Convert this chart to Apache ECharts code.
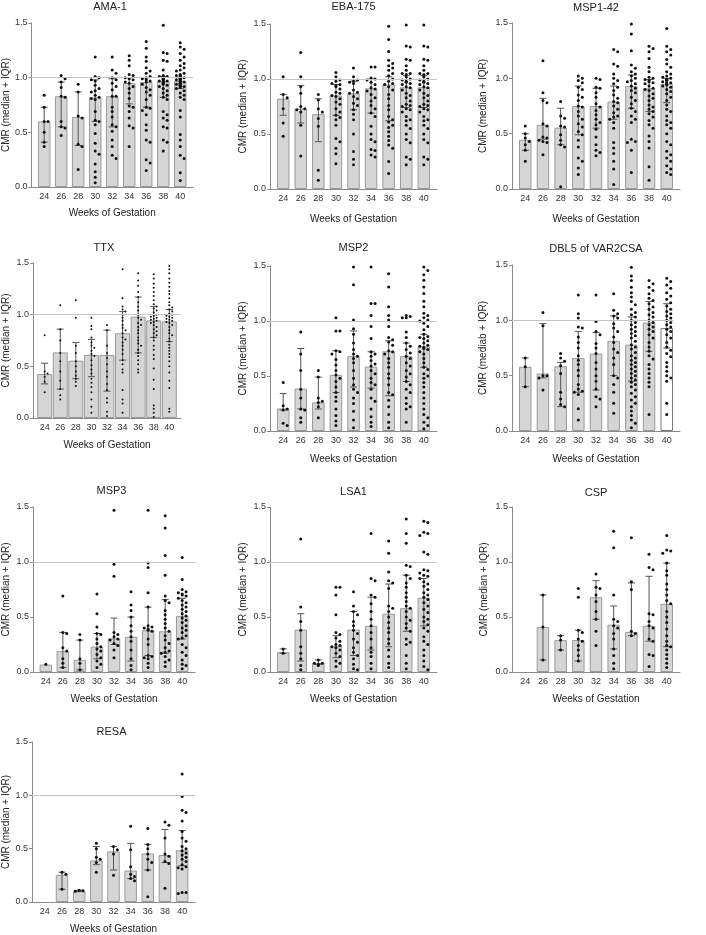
<!DOCTYPE html>
<html>
<head>
<meta charset="utf-8">
<script src="https://cdn.jsdelivr.net/npm/echarts@6/dist/echarts.min.js"></script>
<style>
html,body{margin:0;padding:0;background:#fff;}
#chart{width:706px;height:935px;}
</style>
</head>
<body>
<div id="chart"></div>
<script>
// ---------- DATA ----------
const WEEKS = [24, 26, 28, 30, 32, 34, 36, 38, 40];
const Y_TICKS = [0, 0.5, 1.0, 1.5];
const X_NAME = 'Weeks of Gestation';

// AMA-1
const AMA1_MED = [0.60, 0.83, 0.64, 0.82, 0.83, 0.95, 0.96, 0.97, 0.97];
const AMA1_Q1  = [0.41, 0.55, 0.38, 0.60, 0.55, 0.76, 0.73, 0.82, 0.90];
const AMA1_Q3  = [0.73, 0.96, 0.87, 0.98, 0.99, 1.00, 1.00, 1.01, 1.00];
const AMA1_PTS = [
  [0.84, 0.73, 0.60, 0.60, 0.50, 0.41, 0.37],
  [1.02, 0.99, 0.96, 0.91, 0.83, 0.82, 0.60, 0.55, 0.54, 0.47],
  [0.94, 0.87, 0.65, 0.63, 0.39, 0.37, 0.16],
  [1.19, 1.01, 1.00, 0.98, 0.97, 0.93, 0.90, 0.88, 0.87, 0.84, 0.82, 0.81, 0.80, 0.69, 0.61, 0.60, 0.57, 0.49, 0.40, 0.33, 0.30, 0.21, 0.14, 0.09, 0.04],
  [1.19, 1.07, 1.04, 1.00, 0.98, 0.95, 0.92, 0.89, 0.83, 0.83, 0.73, 0.69, 0.64, 0.57, 0.55, 0.51, 0.43, 0.37, 0.29, 0.26],
  [1.20, 1.16, 1.11, 1.03, 1.02, 1.00, 0.99, 0.98, 0.96, 0.95, 0.92, 0.90, 0.86, 0.81, 0.74, 0.73, 0.69, 0.63, 0.56, 0.54, 0.37],
  [1.33, 1.27, 1.19, 1.15, 1.09, 1.06, 1.04, 1.01, 1.00, 0.99, 0.98, 0.97, 0.96, 0.94, 0.91, 0.89, 0.87, 0.84, 0.80, 0.73, 0.72, 0.70, 0.66, 0.57, 0.52, 0.43, 0.41, 0.25, 0.22, 0.15],
  [1.48, 1.23, 1.22, 1.16, 1.15, 1.07, 1.02, 1.01, 1.01, 1.00, 1.00, 0.99, 0.99, 0.98, 0.98, 0.97, 0.97, 0.96, 0.96, 0.95, 0.94, 0.93, 0.92, 0.90, 0.88, 0.86, 0.84, 0.82, 0.80, 0.69, 0.66, 0.63, 0.61, 0.55, 0.54, 0.43, 0.41, 0.33],
  [1.32, 1.28, 1.26, 1.22, 1.19, 1.16, 1.13, 1.11, 1.09, 1.07, 1.06, 1.04, 1.03, 1.02, 1.02, 1.01, 1.01, 1.00, 1.00, 1.00, 0.99, 0.99, 0.99, 0.98, 0.98, 0.98, 0.97, 0.97, 0.97, 0.96, 0.96, 0.96, 0.95, 0.95, 0.94, 0.94, 0.93, 0.93, 0.92, 0.92, 0.91, 0.90, 0.88, 0.86, 0.84, 0.82, 0.80, 0.70, 0.64, 0.48, 0.43, 0.37, 0.29, 0.26, 0.13, 0.06]
];

// EBA-175
const EBA_MED = [0.82, 0.73, 0.68, 0.85, 0.87, 0.915, 0.95, 0.925, 0.925];
const EBA_Q1  = [0.67, 0.60, 0.43, 0.67, 0.72, 0.69, 0.62, 0.74, 0.74];
const EBA_Q3  = [0.86, 0.94, 0.82, 0.95, 0.98, 1.00, 1.02, 1.03, 1.03];
const EBA_PTS = [
  [1.02, 0.86, 0.83, 0.73, 0.60, 0.48],
  [1.24, 1.02, 0.93, 0.87, 0.75, 0.73, 0.72, 0.70, 0.58, 0.30],
  [0.86, 0.81, 0.73, 0.70, 0.64, 0.57, 0.17, 0.08],
  [1.06, 1.02, 0.99, 0.98, 0.96, 0.95, 0.94, 0.93, 0.91, 0.88, 0.87, 0.85, 0.84, 0.82, 0.79, 0.77, 0.73, 0.70, 0.67, 0.65, 0.63, 0.58, 0.46, 0.43, 0.37, 0.32, 0.23],
  [1.10, 1.02, 0.99, 0.98, 0.97, 0.96, 0.90, 0.88, 0.87, 0.84, 0.82, 0.78, 0.76, 0.72, 0.68, 0.63, 0.50, 0.34, 0.27, 0.22],
  [1.11, 1.11, 1.01, 1.00, 0.99, 0.97, 0.95, 0.92, 0.91, 0.89, 0.86, 0.83, 0.80, 0.76, 0.73, 0.69, 0.66, 0.57, 0.50, 0.45, 0.43, 0.36, 0.35, 0.31, 0.29],
  [1.48, 1.36, 1.25, 1.17, 1.14, 1.12, 1.10, 1.08, 1.05, 1.03, 1.00, 0.98, 0.96, 0.95, 0.93, 0.90, 0.86, 0.82, 0.76, 0.72, 0.66, 0.63, 0.61, 0.58, 0.56, 0.52, 0.48, 0.44, 0.40, 0.37, 0.25, 0.14],
  [1.49, 1.30, 1.29, 1.18, 1.17, 1.12, 1.08, 1.05, 1.05, 1.04, 1.02, 1.00, 0.99, 0.98, 0.97, 0.96, 0.95, 0.93, 0.92, 0.90, 0.87, 0.85, 0.83, 0.80, 0.77, 0.76, 0.75, 0.73, 0.72, 0.70, 0.66, 0.63, 0.62, 0.58, 0.55, 0.50, 0.45, 0.42, 0.29, 0.27, 0.22],
  [1.49, 1.30, 1.29, 1.18, 1.17, 1.12, 1.08, 1.05, 1.05, 1.04, 1.02, 1.00, 0.99, 0.98, 0.97, 0.96, 0.95, 0.93, 0.92, 0.90, 0.87, 0.85, 0.83, 0.80, 0.77, 0.76, 0.75, 0.73, 0.72, 0.70, 0.66, 0.63, 0.62, 0.58, 0.55, 0.50, 0.45, 0.42, 0.29, 0.27, 0.22]
];

// MSP1-42
const MSP142_MED = [0.445, 0.58, 0.555, 0.75, 0.75, 0.79, 0.93, 0.91, 0.95];
const MSP142_Q1  = [0.35, 0.45, 0.40, 0.49, 0.55, 0.63, 0.73, 0.70, 0.78];
const MSP142_Q3  = [0.50, 0.82, 0.73, 0.93, 0.91, 0.93, 1.03, 0.99, 1.00];
const MSP142_PTS = [
  [0.57, 0.50, 0.46, 0.43, 0.40, 0.35, 0.25],
  [1.16, 0.87, 0.80, 0.78, 0.59, 0.57, 0.47, 0.46, 0.44, 0.43, 0.42, 0.31],
  [0.79, 0.66, 0.64, 0.57, 0.56, 0.49, 0.44, 0.40, 0.38, 0.02],
  [1.02, 1.00, 0.98, 0.96, 0.92, 0.90, 0.85, 0.83, 0.80, 0.75, 0.74, 0.70, 0.66, 0.63, 0.59, 0.56, 0.52, 0.49, 0.44, 0.38, 0.28, 0.25, 0.19, 0.13],
  [1.00, 0.99, 0.92, 0.91, 0.87, 0.83, 0.77, 0.74, 0.71, 0.67, 0.63, 0.60, 0.58, 0.54, 0.47, 0.40, 0.35, 0.33, 0.30],
  [1.26, 1.24, 1.13, 1.11, 1.04, 1.00, 0.98, 0.95, 0.92, 0.89, 0.85, 0.82, 0.79, 0.78, 0.75, 0.72, 0.69, 0.66, 0.65, 0.63, 0.60, 0.55, 0.42, 0.37, 0.32, 0.25, 0.18, 0.04],
  [1.49, 1.40, 1.25, 1.12, 1.09, 1.06, 1.04, 1.02, 1.00, 0.98, 0.97, 0.95, 0.93, 0.91, 0.89, 0.87, 0.83, 0.80, 0.77, 0.73, 0.70, 0.66, 0.63, 0.60, 0.45, 0.43, 0.42, 0.35, 0.15],
  [1.29, 1.27, 1.24, 1.18, 1.10, 1.06, 1.01, 1.00, 0.99, 0.98, 0.97, 0.96, 0.95, 0.93, 0.91, 0.90, 0.89, 0.86, 0.84, 0.82, 0.80, 0.76, 0.74, 0.72, 0.70, 0.68, 0.65, 0.62, 0.58, 0.55, 0.48, 0.43, 0.37, 0.20, 0.08],
  [1.45, 1.29, 1.26, 1.24, 1.21, 1.17, 1.13, 1.10, 1.06, 1.04, 1.02, 1.01, 1.00, 0.99, 0.99, 0.98, 0.98, 0.97, 0.96, 0.96, 0.95, 0.94, 0.93, 0.92, 0.90, 0.88, 0.86, 0.83, 0.80, 0.76, 0.72, 0.70, 0.66, 0.62, 0.60, 0.58, 0.55, 0.50, 0.43, 0.40, 0.34, 0.31, 0.28, 0.25, 0.21, 0.18, 0.15, 0.13]
];

// TTX
const TTX_MED = [0.425, 0.635, 0.555, 0.61, 0.61, 0.82, 0.98, 0.945, 0.935];
const TTX_Q1  = [0.33, 0.28, 0.38, 0.40, 0.26, 0.56, 0.63, 0.78, 0.74];
const TTX_Q3  = [0.53, 0.86, 0.73, 0.76, 0.85, 1.03, 1.17, 1.08, 1.05];
const TTX_PTS = [
  [0.80, 0.45, 0.43, 0.40, 0.35, 0.25],
  [1.09, 0.86, 0.75, 0.63, 0.55, 0.45, 0.36, 0.28, 0.22, 0.18],
  [1.14, 0.97, 0.70, 0.63, 0.55, 0.50, 0.45, 0.41, 0.38, 0.35, 0.31],
  [0.97, 0.89, 0.86, 0.78, 0.73, 0.70, 0.68, 0.65, 0.62, 0.60, 0.56, 0.51, 0.47, 0.43, 0.38, 0.34, 0.30, 0.25, 0.18, 0.11, 0.05],
  [0.90, 0.85, 0.70, 0.63, 0.58, 0.52, 0.45, 0.40, 0.33, 0.27, 0.19, 0.15, 0.06, 0.02],
  [1.44, 1.16, 1.08, 1.05, 1.03, 1.00, 0.97, 0.94, 0.90, 0.87, 0.85, 0.82, 0.78, 0.76, 0.73, 0.70, 0.66, 0.62, 0.56, 0.52, 0.47, 0.44, 0.27, 0.18, 0.14, 0.05],
  [1.40, 1.33, 1.28, 1.22, 1.17, 1.12, 1.08, 1.04, 1.00, 0.97, 0.95, 0.92, 0.90, 0.88, 0.85, 0.82, 0.78, 0.75, 0.72, 0.70, 0.66, 0.63, 0.60, 0.56, 0.52, 0.47, 0.44],
  [1.39, 1.35, 1.30, 1.26, 1.22, 1.18, 1.14, 1.10, 1.08, 1.06, 1.04, 1.02, 1.00, 0.99, 0.98, 0.97, 0.96, 0.95, 0.94, 0.93, 0.92, 0.90, 0.88, 0.86, 0.84, 0.82, 0.80, 0.78, 0.75, 0.70, 0.66, 0.61, 0.57, 0.48, 0.37, 0.28, 0.12, 0.09, 0.05, 0.01],
  [1.47, 1.44, 1.40, 1.35, 1.31, 1.27, 1.23, 1.20, 1.16, 1.12, 1.09, 1.07, 1.05, 1.03, 1.01, 1.00, 0.99, 0.98, 0.97, 0.96, 0.95, 0.94, 0.93, 0.92, 0.90, 0.88, 0.85, 0.82, 0.80, 0.77, 0.74, 0.71, 0.68, 0.65, 0.62, 0.59, 0.55, 0.50, 0.44, 0.36, 0.29, 0.09, 0.06]
];

// MSP2
const MSP2_MED = [0.205, 0.385, 0.26, 0.51, 0.68, 0.585, 0.725, 0.68, 0.77];
const MSP2_Q1  = [0.19, 0.20, 0.20, 0.35, 0.40, 0.39, 0.32, 0.45, 0.58];
const MSP2_Q3  = [0.34, 0.75, 0.49, 0.73, 0.91, 0.72, 0.82, 0.80, 0.88];
const MSP2_PTS = [
  [0.44, 0.23, 0.20, 0.19, 0.07, 0.05],
  [0.90, 0.70, 0.55, 0.38, 0.30, 0.20, 0.19, 0.12, 0.08],
  [0.55, 0.49, 0.30, 0.27, 0.26, 0.22, 0.12],
  [1.03, 0.91, 0.91, 0.73, 0.72, 0.70, 0.65, 0.60, 0.55, 0.51, 0.48, 0.45, 0.40, 0.35, 0.31, 0.27, 0.20, 0.14, 0.09, 0.05],
  [1.49, 1.33, 1.01, 0.93, 0.88, 0.80, 0.74, 0.70, 0.68, 0.66, 0.62, 0.55, 0.48, 0.42, 0.38, 0.35, 0.30, 0.25, 0.18, 0.10, 0.03],
  [1.49, 1.16, 1.16, 1.05, 0.95, 0.84, 0.72, 0.70, 0.68, 0.64, 0.61, 0.59, 0.55, 0.52, 0.48, 0.44, 0.42, 0.38, 0.30, 0.27, 0.20, 0.13, 0.08, 0.04],
  [1.43, 1.31, 1.13, 1.05, 1.01, 0.95, 0.85, 0.83, 0.81, 0.78, 0.73, 0.72, 0.70, 0.66, 0.62, 0.58, 0.52, 0.48, 0.42, 0.35, 0.33, 0.28, 0.22, 0.15, 0.08, 0.03],
  [1.05, 1.04, 1.03, 1.03, 0.90, 0.85, 0.80, 0.77, 0.74, 0.71, 0.68, 0.66, 0.62, 0.59, 0.55, 0.52, 0.49, 0.45, 0.42, 0.38, 0.35, 0.30, 0.25, 0.22, 0.20, 0.08],
  [1.49, 1.46, 1.42, 1.37, 1.31, 1.25, 1.18, 1.13, 1.07, 1.05, 1.03, 1.01, 1.00, 0.98, 0.95, 0.92, 0.88, 0.86, 0.85, 0.84, 0.82, 0.80, 0.78, 0.77, 0.76, 0.75, 0.74, 0.72, 0.70, 0.66, 0.62, 0.58, 0.56, 0.52, 0.50, 0.48, 0.44, 0.40, 0.35, 0.30, 0.25, 0.20, 0.15, 0.12, 0.08, 0.05, 0.02]
];

// DBL5 of VAR2CSA
const DBL5_MED = [0.58, 0.52, 0.585, 0.66, 0.70, 0.815, 0.78, 0.98, 0.93];
const DBL5_Q1  = [0.40, 0.48, 0.22, 0.35, 0.37, 0.50, 0.45, 0.72, 0.75];
const DBL5_Q3  = [0.66, 0.97, 0.62, 0.90, 0.89, 1.04, 1.03, 1.17, 1.15];
const DBL5_PTS = [
  [0.66, 0.58, 0.40],
  [1.07, 0.95, 0.50, 0.50, 0.48, 0.37],
  [0.70, 0.66, 0.63, 0.59, 0.52, 0.35, 0.29, 0.24, 0.22],
  [1.23, 1.06, 1.02, 0.94, 0.93, 0.85, 0.80, 0.75, 0.68, 0.64, 0.60, 0.55, 0.50, 0.42, 0.38, 0.36, 0.35, 0.33, 0.20, 0.10],
  [1.23, 0.99, 0.90, 0.87, 0.79, 0.75, 0.70, 0.62, 0.56, 0.50, 0.45, 0.38, 0.31, 0.29, 0.22],
  [1.24, 1.09, 1.06, 1.04, 1.02, 0.97, 0.93, 0.90, 0.85, 0.80, 0.74, 0.71, 0.66, 0.60, 0.50, 0.48, 0.42, 0.35, 0.25, 0.16],
  [1.48, 1.40, 1.36, 1.30, 1.25, 1.21, 1.17, 1.14, 1.10, 1.07, 1.05, 1.03, 1.00, 0.98, 0.96, 0.94, 0.92, 0.90, 0.88, 0.86, 0.84, 0.81, 0.78, 0.76, 0.74, 0.71, 0.68, 0.66, 0.64, 0.62, 0.60, 0.58, 0.56, 0.54, 0.52, 0.50, 0.48, 0.46, 0.44, 0.42, 0.40, 0.37, 0.34, 0.31, 0.28, 0.25, 0.22, 0.18, 0.14, 0.10, 0.07, 0.03],
  [1.36, 1.33, 1.30, 1.27, 1.24, 1.20, 1.18, 1.15, 1.12, 1.10, 1.07, 1.05, 1.03, 1.00, 0.98, 0.96, 0.94, 0.92, 0.90, 0.87, 0.84, 0.80, 0.76, 0.72, 0.68, 0.65, 0.60, 0.56, 0.52, 0.48, 0.44, 0.40, 0.15],
  [1.38, 1.35, 1.32, 1.29, 1.25, 1.22, 1.19, 1.16, 1.13, 1.10, 1.08, 1.06, 1.04, 1.02, 1.00, 0.98, 0.96, 0.94, 0.92, 0.90, 0.87, 0.84, 0.80, 0.76, 0.73, 0.70, 0.67, 0.62, 0.58, 0.54, 0.50, 0.48, 0.45, 0.25, 0.15]
];

// MSP3
const MSP3_MED = [0.067, 0.19, 0.11, 0.23, 0.305, 0.32, 0.38, 0.37, 0.51];
const MSP3_Q1  = [null, 0.04, 0.02, 0.12, 0.25, 0.10, 0.15, 0.17, 0.30];
const MSP3_Q3  = [null, 0.36, 0.29, 0.35, 0.49, 0.50, 0.59, 0.66, 0.67];
const MSP3_PTS = [
  [0.07],
  [0.69, 0.36, 0.35, 0.22, 0.19, 0.12, 0.08, 0.04],
  [0.34, 0.29, 0.12, 0.08, 0.02],
  [0.71, 0.53, 0.41, 0.35, 0.34, 0.30, 0.26, 0.23, 0.21, 0.19, 0.16, 0.13, 0.10, 0.07, 0.04],
  [1.47, 0.98, 0.87, 0.36, 0.34, 0.32, 0.30, 0.29, 0.26, 0.24, 0.20, 0.13],
  [0.73, 0.61, 0.56, 0.50, 0.42, 0.37, 0.32, 0.28, 0.20, 0.12, 0.06, 0.02],
  [1.47, 0.99, 0.95, 0.72, 0.59, 0.42, 0.41, 0.40, 0.39, 0.38, 0.37, 0.30, 0.25, 0.15, 0.14, 0.13, 0.12, 0.08, 0.04],
  [1.42, 1.31, 1.06, 0.88, 0.69, 0.65, 0.63, 0.56, 0.52, 0.48, 0.44, 0.40, 0.37, 0.33, 0.29, 0.26, 0.22, 0.19, 0.18, 0.17, 0.14, 0.11, 0.09, 0.05],
  [1.04, 0.84, 0.75, 0.73, 0.72, 0.71, 0.70, 0.69, 0.67, 0.65, 0.63, 0.61, 0.59, 0.57, 0.55, 0.53, 0.51, 0.49, 0.47, 0.45, 0.42, 0.40, 0.38, 0.36, 0.33, 0.31, 0.30, 0.25, 0.22, 0.18, 0.15, 0.11, 0.07, 0.06, 0.03]
];

// LSA1
const LSA1_MED = [0.18, 0.385, 0.08, 0.235, 0.385, 0.42, 0.53, 0.58, 0.675];
const LSA1_Q1  = [0.17, 0.10, 0.07, 0.13, 0.15, 0.20, 0.23, 0.37, 0.42];
const LSA1_Q3  = [0.21, 0.53, 0.11, 0.33, 0.55, 0.68, 0.80, 0.88, 0.85];
const LSA1_PTS = [
  [0.21, 0.17],
  [1.21, 0.59, 0.46, 0.38, 0.23, 0.17, 0.12, 0.06, 0.02],
  [0.11, 0.08, 0.08, 0.07, 0.06],
  [0.77, 0.77, 0.70, 0.52, 0.36, 0.34, 0.31, 0.28, 0.25, 0.24, 0.23, 0.22, 0.20, 0.17, 0.14, 0.10, 0.08, 0.05],
  [0.73, 0.60, 0.55, 0.52, 0.46, 0.42, 0.38, 0.35, 0.30, 0.27, 0.22, 0.18, 0.15, 0.12, 0.07, 0.03, 0.02],
  [1.26, 0.85, 0.83, 0.70, 0.68, 0.62, 0.55, 0.48, 0.42, 0.36, 0.30, 0.22, 0.18, 0.14, 0.08, 0.03],
  [1.19, 1.08, 0.91, 0.83, 0.81, 0.76, 0.60, 0.58, 0.55, 0.50, 0.45, 0.40, 0.36, 0.30, 0.26, 0.20, 0.14, 0.08, 0.04],
  [1.39, 1.26, 1.17, 0.97, 0.96, 0.88, 0.85, 0.81, 0.77, 0.72, 0.68, 0.64, 0.60, 0.58, 0.55, 0.50, 0.47, 0.44, 0.40, 0.37, 0.30, 0.27, 0.25, 0.15, 0.08, 0.03],
  [1.37, 1.36, 1.27, 1.26, 1.24, 1.09, 1.07, 0.93, 0.92, 0.90, 0.88, 0.87, 0.85, 0.82, 0.80, 0.78, 0.75, 0.72, 0.70, 0.68, 0.66, 0.63, 0.60, 0.57, 0.54, 0.50, 0.48, 0.46, 0.43, 0.40, 0.37, 0.32, 0.28, 0.25, 0.20, 0.15, 0.10, 0.05, 0.02]
];

// CSP
const CSP_MED = [null, 0.41, 0.29, 0.29, 0.68, 0.43, 0.365, 0.42, 0.62];
const CSP_Q1  = [null, 0.11, 0.20, 0.10, 0.48, 0.21, 0.33, 0.28, 0.23];
const CSP_Q3  = [null, 0.70, 0.33, 0.38, 0.83, 0.60, 0.81, 0.87, 0.99];
const CSP_PTS = [
  [],
  [0.70, 0.41, 0.11],
  [0.33, 0.29, 0.20],
  [0.76, 0.68, 0.38, 0.36, 0.30, 0.28, 0.24, 0.20, 0.15, 0.10],
  [0.89, 0.77, 0.76, 0.70, 0.64, 0.55, 0.48, 0.37, 0.24],
  [1.28, 1.13, 0.70, 0.48, 0.46, 0.42, 0.40, 0.35, 0.30, 0.21, 0.15, 0.08, 0.03],
  [1.22, 0.82, 0.75, 0.37, 0.35, 0.33],
  [1.07, 0.95, 0.93, 0.53, 0.52, 0.46, 0.42, 0.40, 0.30, 0.28, 0.16, 0.15, 0.05],
  [1.24, 1.11, 1.10, 1.08, 0.99, 0.92, 0.88, 0.80, 0.75, 0.70, 0.65, 0.62, 0.55, 0.50, 0.45, 0.39, 0.33, 0.28, 0.24, 0.23, 0.20, 0.16, 0.12, 0.08, 0.04]
];

// RESA
const RESA_MED = [null, 0.255, 0.10, 0.39, 0.475, 0.295, 0.455, 0.44, 0.485];
const RESA_Q1  = [null, 0.12, 0.10, 0.35, 0.30, 0.22, 0.30, 0.37, 0.34];
const RESA_Q3  = [null, 0.28, 0.11, 0.52, 0.52, 0.55, 0.54, 0.68, 0.67];
const RESA_PTS = [
  [],
  [0.28, 0.26, 0.12],
  [0.11, 0.105, 0.10],
  [0.55, 0.50, 0.42, 0.40, 0.37, 0.28],
  [0.52, 0.49, 0.45, 0.25],
  [0.71, 0.49, 0.33, 0.26, 0.24, 0.22, 0.20],
  [0.69, 0.54, 0.50, 0.45, 0.40, 0.37, 0.30, 0.05],
  [0.75, 0.72, 0.60, 0.45, 0.43, 0.38, 0.36, 0.13],
  [1.20, 0.99, 0.86, 0.84, 0.76, 0.66, 0.60, 0.57, 0.52, 0.50, 0.48, 0.46, 0.44, 0.42, 0.40, 0.38, 0.35, 0.33, 0.32, 0.31, 0.09, 0.09, 0.08]
];

// ---------- LAYOUT / STYLE ----------
const PANELS = [
  {title:'AMA-1', med:AMA1_MED, q1:AMA1_Q1, q3:AMA1_Q3, pts:AMA1_PTS, L:27, R:193, T:23, B:187, ty:7, yGap:20, xGap:21},
  {title:'EBA-175', med:EBA_MED, q1:EBA_Q1, q3:EBA_Q3, pts:EBA_PTS, L:270, R:437, T:24, B:189, ty:7, yGap:22, xGap:25},
  {title:'MSP1-42', med:MSP142_MED, q1:MSP142_Q1, q3:MSP142_Q3, pts:MSP142_PTS, L:512, R:680, T:23, B:189, ty:8, yGap:24, xGap:25, refEnd:44.2},
  {title:'TTX', med:TTX_MED, q1:TTX_Q1, q3:TTX_Q3, pts:TTX_PTS, L:27, R:181, T:263, B:418, ty:248, yGap:22, xGap:22, barW:15, dot:2},
  {title:'MSP2', med:MSP2_MED, q1:MSP2_Q1, q3:MSP2_Q3, pts:MSP2_PTS, L:270, R:437, T:266, B:431, ty:248, yGap:22, xGap:23},
  {title:'DBL5 of VAR2CSA', yName:'CMR (mediab + IQR)', med:DBL5_MED, q1:DBL5_Q1, q3:DBL5_Q3, pts:DBL5_PTS, L:512, R:680, T:265, B:431, ty:249, yGap:24, xGap:23, refEnd:40.8, whiteLast:true},
  {title:'MSP3', med:MSP3_MED, q1:MSP3_Q1, q3:MSP3_Q3, pts:MSP3_PTS, L:28, R:195, T:507, B:672, ty:491, yGap:22, xGap:22},
  {title:'LSA1', med:LSA1_MED, q1:LSA1_Q1, q3:LSA1_Q3, pts:LSA1_PTS, L:270, R:437, T:507, B:672, ty:492, yGap:22, xGap:22},
  {title:'CSP', med:CSP_MED, q1:CSP_Q1, q3:CSP_Q3, pts:CSP_PTS, L:512, R:680, T:507, B:672, ty:493, yGap:23, xGap:22, refEnd:41.8},
  {title:'RESA', med:RESA_MED, q1:RESA_Q1, q3:RESA_Q3, pts:RESA_PTS, L:28, R:195, T:742, B:907, ty:732, yGap:21, xGap:22}
];

const FONT = '"Liberation Sans", Arial, Helvetica, sans-serif';
const XMIN = 22.5, XMAX = 41.5;
const BAR_FILL = '#d5d5d5', BAR_EDGE = '#9a9a9a', ERR = '#555', DOT = '#111', AXIS = '#8a8a8a', REF = '#c4c4c4';

// beeswarm layout in pixel space -> data offsets
function swarm(vals, week, p, size) {
  const pxX = (p.R - p.L) / (XMAX - XMIN);
  const pxY = (p.B - p.T) / 1.5;
  const d = size + 1.0;
  const maxOff = (p.barW || 12.5) / 2 + 1.5;
  const placed = [];
  const out = [];
  const sorted = vals.slice().sort((a, b) => b - a);
  sorted.forEach(v => {
    const y = v * pxY;
    let best = 0, found = false;
    for (let k = 0; k < 12 && !found; k++) {
      const cands = k === 0 ? [0] : [k * d, -k * d];
      for (const dx of cands) {
        if (Math.abs(dx) > maxOff) continue;
        const hit = placed.some(q => Math.hypot(q[0] - dx, q[1] - y) < d);
        if (!hit) { best = dx; found = true; break; }
      }
    }
    placed.push([best, y]);
    out.push([week + best / pxX, v]);
  });
  return out;
}

const grid = [], xAxis = [], yAxis = [], series = [], graphic = [];
PANELS.forEach((p, i) => {
  grid.push({left: p.L, top: p.T, width: p.R - p.L, height: p.B - p.T, containLabel: false});
  xAxis.push({
    gridIndex: i, type: 'value', min: XMIN, max: XMAX,
    name: X_NAME, nameLocation: 'middle', nameGap: p.xGap,
    nameTextStyle: {fontFamily: FONT, fontSize: 10, color: '#222'},
    axisLine: {show: true, onZero: false, lineStyle: {color: AXIS, width: 1}},
    axisTick: {show: false},
    splitLine: {show: false},
    axisLabel: {customValues: WEEKS, fontFamily: FONT, fontSize: 9, color: '#333', margin: 5}
  });
  yAxis.push({
    gridIndex: i, type: 'value', min: 0, max: 1.5, interval: 0.5,
    name: p.yName || 'CMR (median + IQR)', nameLocation: 'middle', nameGap: p.yGap,
    nameTextStyle: {fontFamily: FONT, fontSize: 10, color: '#222'},
    axisLine: {show: true, lineStyle: {color: AXIS, width: 1}},
    axisTick: {show: true, length: 3, lineStyle: {color: AXIS}},
    splitLine: {show: false},
    axisLabel: {customValues: Y_TICKS, formatter: v => v.toFixed(1), fontFamily: FONT, fontSize: 9, color: '#333', margin: 4}
  });
  graphic.push({
    type: 'text', x: (p.L + p.R) / 2, y: p.ty,
    style: {text: p.title, font: '11px ' + FONT, fill: '#222', align: 'center', verticalAlign: 'middle'}
  });
  const barData = [];
  WEEKS.forEach((w, j) => {
    if (p.med[j] == null) return;
    const item = {value: [w, p.med[j]]};
    if (p.whiteLast && j === WEEKS.length - 1) item.itemStyle = {color: '#ffffff', borderColor: '#777'};
    barData.push(item);
  });
  series.push({
    type: 'bar', xAxisIndex: i, yAxisIndex: i, barWidth: p.barW || 12.5,
    itemStyle: {color: BAR_FILL, borderColor: BAR_EDGE, borderWidth: 1},
    data: barData, silent: true, animation: false,
    markLine: {
      silent: true, symbol: 'none', animation: false, label: {show: false},
      lineStyle: {color: REF, width: 1, type: 'solid'},
      data: [[{coord: [XMIN, 1.0]}, {coord: [p.refEnd || XMAX, 1.0]}]]
    }
  });
  const errData = [];
  WEEKS.forEach((w, j) => {
    if (p.q1[j] == null || p.q3[j] == null) return;
    errData.push([w, p.q1[j], p.q3[j]]);
  });
  series.push({
    type: 'custom', xAxisIndex: i, yAxisIndex: i, silent: true, animation: false, z: 3,
    data: errData,
    renderItem: function (params, api) {
      const lo = api.coord([api.value(0), api.value(1)]);
      const hi = api.coord([api.value(0), api.value(2)]);
      const cw = 3.5;
      const st = {stroke: ERR, lineWidth: 1};
      return {type: 'group', children: [
        {type: 'line', shape: {x1: lo[0], y1: lo[1], x2: hi[0], y2: hi[1]}, style: st},
        {type: 'line', shape: {x1: lo[0] - cw, y1: lo[1], x2: lo[0] + cw, y2: lo[1]}, style: st},
        {type: 'line', shape: {x1: hi[0] - cw, y1: hi[1], x2: hi[0] + cw, y2: hi[1]}, style: st}
      ]};
    }
  });
  const size = p.dot || 3;
  let dots = [];
  WEEKS.forEach((w, j) => { dots = dots.concat(swarm(p.pts[j] || [], w, p, size)); });
  series.push({
    type: 'scatter', xAxisIndex: i, yAxisIndex: i, symbol: 'circle', symbolSize: size,
    itemStyle: {color: DOT, opacity: 1}, data: dots, silent: true, animation: false, z: 4, clip: false
  });
});

const chart = echarts.init(document.getElementById('chart'), null, {renderer: 'canvas'});
chart.setOption({
  backgroundColor: '#ffffff', animation: false,
  textStyle: {fontFamily: FONT},
  grid: grid, xAxis: xAxis, yAxis: yAxis, series: series, graphic: graphic
});
</script>
</body>
</html>
